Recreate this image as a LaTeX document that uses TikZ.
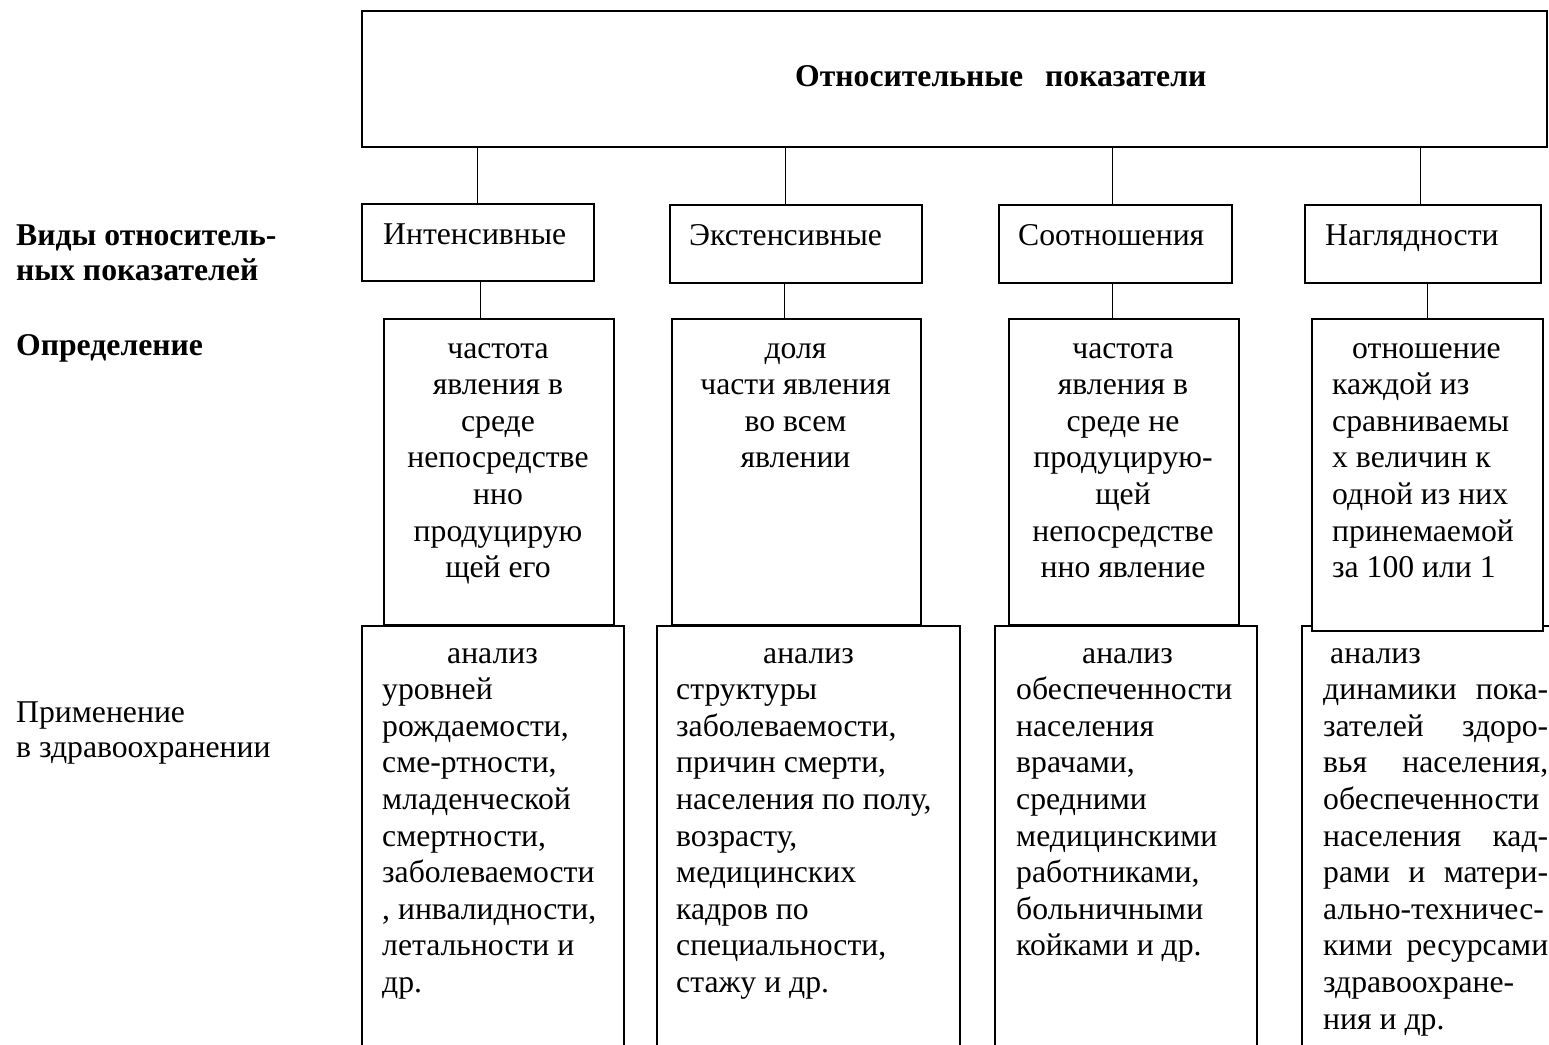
\documentclass[tikz,border=0pt]{standalone}
\usepackage{fontspec}
\setmainfont{Liberation Serif}
\usetikzlibrary{calc}
\newcommand\bodyfs{\fontsize{31.7}{36.6}\selectfont}
\newcommand\sidefs{\fontsize{31.7}{35}\selectfont}
\begin{document}
\begin{tikzpicture}[x=1pt,y=-1pt,
  box/.style={draw=black, line width=1.6pt, fill=white, rectangle, inner sep=0pt, anchor=north west},
  conn/.style={draw=black, line width=1.3pt},
  txt/.style={inner sep=0pt, font=\bodyfs, anchor=base west, align=left},
  ctxt/.style={inner sep=0pt, font=\bodyfs, anchor=base, align=center},
  side/.style={inner sep=0pt, font=\sidefs, anchor=base west, align=left},
]
\useasboundingbox (0,0) rectangle (1549,1044);
\clip (0,0) rectangle (1549,1044);

% top box
\node[box, minimum width=1185pt, minimum height=136pt] (top) at (361,10) {};
\node[txt, font=\bodyfs\bfseries] (title) at (795,86) {Относительные\hspace{22pt}показатели};

% type boxes
\node[box, minimum width=232pt, minimum height=77pt] (T1) at (361,203) {};
\node[box, minimum width=252pt, minimum height=78pt] (T2) at (669,204) {};
\node[box, minimum width=233pt, minimum height=78pt] (T3) at (998,204) {};
\node[box, minimum width=236pt, minimum height=78pt] (T4) at (1304,204) {};

% connectors top -> types
\draw[conn] (T1.north) -- (T1.north |- top.south);
\draw[conn] ($(T2.north)+(-10,0)$) -- ($(T2.north |- top.south)+(-10,0)$);
\draw[conn] ($(T3.north)+(-2.5,0)$) -- ($(T3.north |- top.south)+(-2.5,0)$);
\draw[conn] ($(T4.north)+(-2,0)$) -- ($(T4.north |- top.south)+(-2,0)$);

% application boxes (run past the bottom edge)
\node[box, minimum width=262pt, minimum height=450pt] (A1) at (361,625) {};
\node[box, minimum width=303pt, minimum height=450pt] (A2) at (656,625) {};
\node[box, minimum width=262pt, minimum height=450pt] (A3) at (994,625) {};
\node[box, minimum width=270pt, minimum height=450pt] (A4) at (1301,625) {};

% definition boxes
\node[box, minimum width=230pt, minimum height=306pt] (D1) at (383,318) {};
\node[box, minimum width=249pt, minimum height=306pt] (D2) at (671,318) {};
\node[box, minimum width=230pt, minimum height=306pt] (D3) at (1008,318) {};
\node[box, minimum width=231pt, minimum height=312pt] (D4) at (1311,318) {};

% connectors types -> definitions
\draw[conn] ($(T1.south)+(3,0)$) -- ($(T1.south |- D1.north)+(3,0)$);
\draw[conn] ($(T2.south)+(-11,0)$) -- ($(T2.south |- D2.north)+(-11,0)$);
\draw[conn] ($(T3.south)+(-2.5,0)$) -- ($(T3.south |- D3.north)+(-2.5,0)$);
\draw[conn] ($(T4.south)+(5,0)$) -- ($(T4.south |- D4.north)+(5,0)$);

% type labels
\node[txt] (t1) at (383,244) {Интенсивные};
\node[txt] (t2) at (689,245) {Экстенсивные};
\node[txt] (t3) at (1018,245) {Соотношения};
\node[txt] (t4) at (1325,245) {Наглядности};

% definitions (base = last line)
\node[ctxt] (d1) at (498,577.6) {частота\\явления в\\среде\\непосредстве\\нно\\продуцирую\\щей его};
\node[ctxt] (d2) at (795.5,467.8) {доля\\части явления\\во всем\\явлении};
\node[ctxt] (d3) at (1123,577.6) {частота\\явления в\\среде не\\продуцирую-\\щей\\непосредстве\\нно явление};
\node[txt] (d4) at (1332,577.6) {\hspace*{20pt}отношение\\каждой из\\сравниваемы\\х величин к\\одной из них\\принемаемой\\за 100 или 1};

% applications (base = last line)
\node[txt] (a1) at (382,992.4) {\hspace*{65pt}анализ\\уровней\\рождаемости,\\сме-ртности,\\младенческой\\смертности,\\заболеваемости\\, инвалидности,\\летальности и\\др.};
\node[txt] (a2) at (676,992.4) {\hspace*{87pt}анализ\\структуры\\заболеваемости,\\причин смерти,\\населения по полу,\\возрасту,\\медицинских\\кадров по\\специальности,\\стажу и др.};
\node[txt] (a3) at (1016,955.8) {\hspace*{66pt}анализ\\обеспеченности\\населения\\врачами,\\средними\\медицинскими\\работниками,\\больничными\\койками и др.};
\node[txt] (a4) at (1323,1029) {\hspace*{7pt}анализ\\\makebox[225pt][s]{динамики пока-}\\\makebox[225pt][s]{зателей здоро-}\\\makebox[225pt][s]{вья населения,}\\обеспеченности\\\makebox[225pt][s]{населения кад-}\\\makebox[225pt][s]{рами и матери-}\\ально-техничес-\\\makebox[225pt][s]{кими ресурсами}\\здравоохране-\\ния и др.};

% side labels
\node[side, font=\sidefs\bfseries] (s1) at (16,280) {Виды относитель-\\ных показателей};
\node[side, font=\sidefs\bfseries] (s2) at (16,355) {Определение};
\node[side] (s3) at (16,757) {Применение\\в здравоохранении};
\end{tikzpicture}
\end{document}
